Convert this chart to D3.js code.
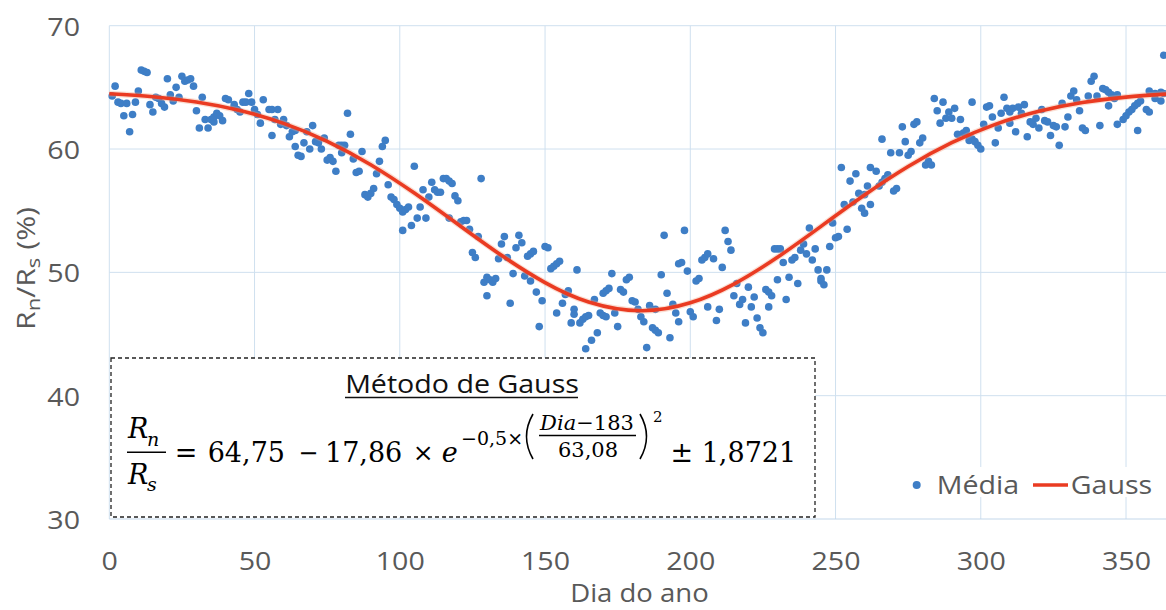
<!DOCTYPE html>
<html><head><meta charset="utf-8">
<script src="https://cdn.jsdelivr.net/npm/d3@7"></script>
<style>body{margin:0;background:#fff}svg{display:block}</style>
</head><body><svg id="c" width="1166" height="610"></svg>
<script>
// Média (daily mean) — day of year and Rn/Rs (%)
const days = [1,2,3,4,5,6,7,8,9,10,11,12,13,14,15,16,17,18,19,20,21,22,23,24,25,26,27,28,29,30,31,32,33,34,35,36,36,37,38,39,40,41,43,43,44,45,46,47,48,49,50,51,52,53,55,56,56,57,58,59,60,61,62,63,64,64,65,66,67,68,69,70,71,72,73,74,75,76,77,78,79,80,80,81,82,83,84,85,86,87,88,89,90,91,92,93,94,95,96,97,98,99,100,101,101,102,103,104,105,106,107,108,109,110,111,112,113,114,115,116,117,117,118,119,120,121,122,123,124,125,126,127,128,129,130,130,131,132,133,134,135,136,137,138,139,140,141,142,143,144,145,145,146,147,148,149,150,151,152,153,154,154,155,156,157,158,159,160,160,161,162,163,164,164,165,166,167,168,169,170,170,171,171,172,173,174,175,176,177,178,179,180,181,182,183,184,185,186,187,188,188,189,190,191,192,193,194,195,196,196,197,198,199,200,201,202,203,204,205,206,206,208,209,210,211,212,213,214,215,216,217,218,219,220,221,222,223,224,225,226,227,227,228,229,230,230,231,232,233,234,235,236,237,238,239,240,241,242,243,244,245,245,246,247,248,249,250,251,252,253,254,255,256,257,258,259,260,260,261,262,262,264,265,266,266,267,268,269,270,271,272,273,274,275,276,277,278,279,280,281,282,283,284,285,286,287,288,289,290,291,292,293,294,295,296,297,297,298,299,300,301,302,303,304,305,306,307,308,309,310,310,311,312,313,314,315,316,317,318,319,320,321,322,323,324,325,326,327,328,329,330,331,332,333,334,335,336,337,338,339,340,341,342,343,344,344,345,346,347,347,349,350,351,352,353,354,354,355,357,358,358,360,360,362,362,363,363];
const media = [64.3,65.1,63.8,63.7,62.7,63.7,61.4,62.8,63.8,64.7,66.4,66.3,66.2,63.6,63.0,64.2,64.1,63.7,63.4,65.7,64.4,63.9,65.0,64.2,65.9,65.5,65.6,65.7,65.1,63.1,61.7,64.2,62.4,61.7,62.4,62.2,62.6,62.9,62.7,62.3,64.1,64.0,63.4,63.6,63.2,63.0,63.8,63.8,64.5,63.8,63.2,62.8,62.1,64.0,63.2,63.2,61.1,62.4,63.2,62.0,62.4,61.9,61.0,61.4,60.2,61.5,59.5,59.4,60.5,61.4,60.0,61.9,60.6,60.5,60.0,60.9,59.1,59.3,59.0,58.2,60.3,60.3,59.7,60.3,62.9,61.2,59.2,58.1,58.2,59.8,56.3,56.1,56.4,56.8,58.0,59.0,60.2,60.7,57.1,56.1,55.9,55.5,55.2,54.9,53.4,55.1,55.3,53.8,58.6,54.4,55.3,56.7,54.4,56.1,57.3,56.7,56.5,56.5,57.6,57.6,57.4,54.4,57.2,56.2,55.8,54.1,54.2,54.2,53.5,51.6,51.2,52.9,57.6,49.2,49.6,48.1,49.4,49.2,49.5,51.1,52.3,52.9,51.2,47.5,49.9,52.0,53.0,52.4,49.7,51.3,51.5,49.3,51.7,48.4,45.6,47.7,52.1,52.0,50.3,50.5,50.7,46.7,50.9,47.5,48.2,48.5,45.9,46.6,47.0,50.2,45.9,46.2,46.4,43.8,46.5,44.5,47.8,45.1,46.7,46.5,48.3,46.4,48.5,48.7,49.9,46.7,45.6,48.6,48.4,49.4,49.6,47.7,47.6,47.0,46.4,46.0,43.9,47.3,45.5,45.3,47.0,45.1,49.8,53.0,48.3,44.7,47.4,46.7,50.7,46.0,50.8,53.4,50.1,46.8,46.4,49.3,49.5,51.0,51.2,51.5,47.2,51.1,46.1,47.0,50.4,53.4,52.5,51.8,48.1,49.1,47.4,47.8,45.9,48.8,47.2,48.0,46.3,45.5,45.1,48.6,48.4,47.2,48.1,51.9,51.9,49.4,51.9,50.8,47.8,49.6,51.0,51.2,49.1,51.8,52.3,51.5,53.6,51.0,51.9,50.2,49.5,49.3,49.0,50.2,52.1,54.0,52.8,52.9,58.5,55.5,53.5,57.4,55.7,58.0,56.4,55.2,54.8,56.3,57.0,55.5,58.5,58.2,57.0,57.3,60.8,57.6,57.9,59.7,56.6,56.8,59.7,61.8,60.6,59.5,59.8,62.0,62.2,60.5,60.9,58.7,59.0,58.7,64.1,63.1,62.1,63.8,62.5,63.0,62.5,63.3,61.2,62.4,61.3,61.5,60.7,60.8,63.8,60.6,60.3,60.0,62.0,63.4,63.5,62.6,60.5,61.7,62.9,64.2,63.3,63.0,62.1,63.3,61.4,63.4,62.9,63.6,61.0,62.2,62.0,62.5,61.7,63.2,62.3,62.2,61.1,61.9,61.8,60.3,63.7,61.8,62.6,64.3,64.7,64.0,63.1,61.7,61.5,64.3,65.5,65.9,64.3,61.9,64.9,64.8,64.6,63.5,64.4,64.1,64.4,62.0,62.4,62.7,63.0,63.2,63.5,63.7,61.5,63.9,63.2,63.0,64.7,64.5,64.1,64.6,63.9,64.5,67.6];

// Gauss fitted curve, sampled values
const gaussDays   = [0,15,30,45,60,75,90,105,120,135,150,165,183,200,215,230,245,260,275,290,305,320,335,350,365];
const gaussValues = [64.48,64.24,63.81,63.12,62.08,60.63,58.73,56.43,53.90,51.38,49.17,47.60,46.89,47.53,49.05,51.22,53.73,56.27,58.58,60.51,62.00,63.06,63.77,64.21,64.47];

const xTicks = [0,50,100,150,200,250,300,350];
const yTicks = [30,40,50,60,70];
const seriesNames = ["Média","Gauss"];

const svg = d3.select("#c");
const x = d3.scaleLinear().domain([0,365]).range([109.3,1169.6]);
const y = d3.scaleLinear().domain([30,70]).range([519,25.7]);
const grid = "#cfe0ef";
const txt = "#595959";
const sans = "'Open Sans', sans-serif";
const serif = "'DejaVu Serif', serif";

// gridlines
svg.append("g").selectAll("line").data(xTicks).join("line")
  .attr("x1",d=>x(d)).attr("x2",d=>x(d)).attr("y1",y(70)).attr("y2",y(30))
  .attr("stroke",grid).attr("stroke-width",1);
svg.append("g").selectAll("line").data(yTicks).join("line")
  .attr("x1",x(0)).attr("x2",1166).attr("y1",d=>y(d)).attr("y2",d=>y(d))
  .attr("stroke",d=>d===30?"#c3d7ea":grid).attr("stroke-width",1);

// axes
const gx = svg.append("g").attr("transform",`translate(0,${y(30)})`)
  .call(d3.axisBottom(x).tickValues(xTicks).tickSize(0).tickFormat(d3.format("d")));
gx.select(".domain").remove();
gx.selectAll("text").attr("y",0).attr("dy",0).attr("transform","translate(0,51) scale(1.1,1)")
  .attr("font-family",sans).attr("font-size",26).attr("fill",txt);

const gy = svg.append("g").attr("transform",`translate(${x(0)},0)`)
  .call(d3.axisLeft(y).tickValues(yTicks).tickSize(0).tickFormat(d3.format("d")));
gy.select(".domain").remove();
gy.selectAll("text").attr("x",0).attr("dy",0).attr("text-anchor","end")
  .attr("transform","translate(-29.3,9.5) scale(1.1,1)")
  .attr("font-family",sans).attr("font-size",26).attr("fill",txt);

// axis titles
svg.append("text").attr("transform",`translate(${(x(0)+x(365))/2},602) scale(1.1,1)`)
  .attr("text-anchor","middle").attr("font-family",sans).attr("font-size",25).attr("fill",txt)
  .text("Dia do ano");
const yt = svg.append("text").attr("transform","translate(35,268.5) rotate(-90)")
  .attr("text-anchor","middle").attr("font-family",sans).attr("font-size",26).attr("fill",txt)
  .attr("textLength",123).attr("lengthAdjust","spacingAndGlyphs");
yt.append("tspan").text("R");
yt.append("tspan").attr("dy",5).attr("font-size",19).text("n");
yt.append("tspan").attr("dy",-5).text("/R");
yt.append("tspan").attr("dy",5).attr("font-size",19).text("s");
yt.append("tspan").attr("dy",-5).text(" (%)");

// Média points
svg.append("g").selectAll("circle").data(days.map((d,i)=>[d,media[i]])).join("circle")
  .attr("cx",d=>x(d[0])).attr("cy",d=>y(d[1])).attr("r",3.8).attr("fill","#3e7ec6");

// Gauss curve
const line = d3.line().x((d,i)=>x(gaussDays[i])).y(d=>y(d)).curve(d3.curveNatural);
svg.append("path").attr("d",line(gaussValues)).attr("fill","none")
  .attr("stroke","#f0a080").attr("stroke-width",6).attr("stroke-opacity",0.35);
svg.append("path").attr("d",line(gaussValues)).attr("fill","none")
  .attr("stroke","#ea3b22").attr("stroke-width",3.6);

// equation box
svg.append("rect").attr("x",111).attr("y",358).attr("width",704).attr("height",159)
  .attr("fill","#fff").attr("stroke","#222").attr("stroke-width",1.3).attr("stroke-dasharray","4,3");
svg.append("text").attr("transform","translate(462,393) scale(1.1,1)").attr("text-anchor","middle")
  .attr("font-family",sans).attr("font-size",26).attr("fill","#111").text("Método de Gauss");
svg.append("line").attr("x1",345).attr("x2",578).attr("y1",397.5).attr("y2",397.5)
  .attr("stroke","#111").attr("stroke-width",1.6);

const eq = svg.append("g").attr("fill","#000").attr("font-family",serif);
function t(s,xx,yy,size,italic,anchor){
  return eq.append("text").attr("x",xx).attr("y",yy).attr("font-size",size)
    .attr("font-style",italic?"italic":"normal").attr("text-anchor",anchor||"start").text(s);
}
t("R",128,438,27,true); t("n",147,446,19,true);
eq.append("line").attr("x1",127).attr("x2",166).attr("y1",452.3).attr("y2",452.3).attr("stroke","#000").attr("stroke-width",1.6);
t("R",128,484,27,true); t("s",147,491,19,true);
t("=",186,462,27,false,"middle"); t("64,75",207.7,462,27); t("\u2212",308.3,461,24,false,"middle"); t("17,86",325,462,27);
t("\u00d7",423.3,461,25,false,"middle"); t("e",441.7,462,27,true);
t("\u22120,5\u00d7",461,445,19);
eq.append("path").attr("d","M533,414 Q520,436.5 533,459").attr("fill","none").attr("stroke","#000").attr("stroke-width",1.6);
const num = t("",587,430,21,false,"middle");
num.append("tspan").attr("font-style","italic").text("Dia");
num.append("tspan").text("\u2212183");
eq.append("line").attr("x1",539).attr("x2",636).attr("y1",435.5).attr("y2",435.5).attr("stroke","#000").attr("stroke-width",1.3);
t("63,08",588,457,21,false,"middle");
eq.append("path").attr("d","M640,414 Q653,436.5 640,459").attr("fill","none").attr("stroke","#000").attr("stroke-width",1.6);
t("2",653,422,15);
t("\u00b1",681.7,462,27,false,"middle"); t("1,8721",701.7,462,27);

// legend
const lg = svg.append("g");
lg.append("rect").attr("x",905).attr("y",467).attr("width",255).attr("height",30).attr("fill","#fff");
lg.append("circle").attr("cx",916.7).attr("cy",485).attr("r",4).attr("fill","#3e7ec6");
lg.append("text").attr("transform","translate(936.7,493.5) scale(1.1,1)").attr("font-family",sans)
  .attr("font-size",26).attr("fill",txt).text(seriesNames[0]);
lg.append("line").attr("x1",1033).attr("x2",1068).attr("y1",485).attr("y2",485)
  .attr("stroke","#ea3b22").attr("stroke-width",3.6);
lg.append("text").attr("transform","translate(1070.7,493.5) scale(1.1,1)").attr("font-family",sans)
  .attr("font-size",26).attr("fill",txt).text(seriesNames[1]);
</script></body></html>
